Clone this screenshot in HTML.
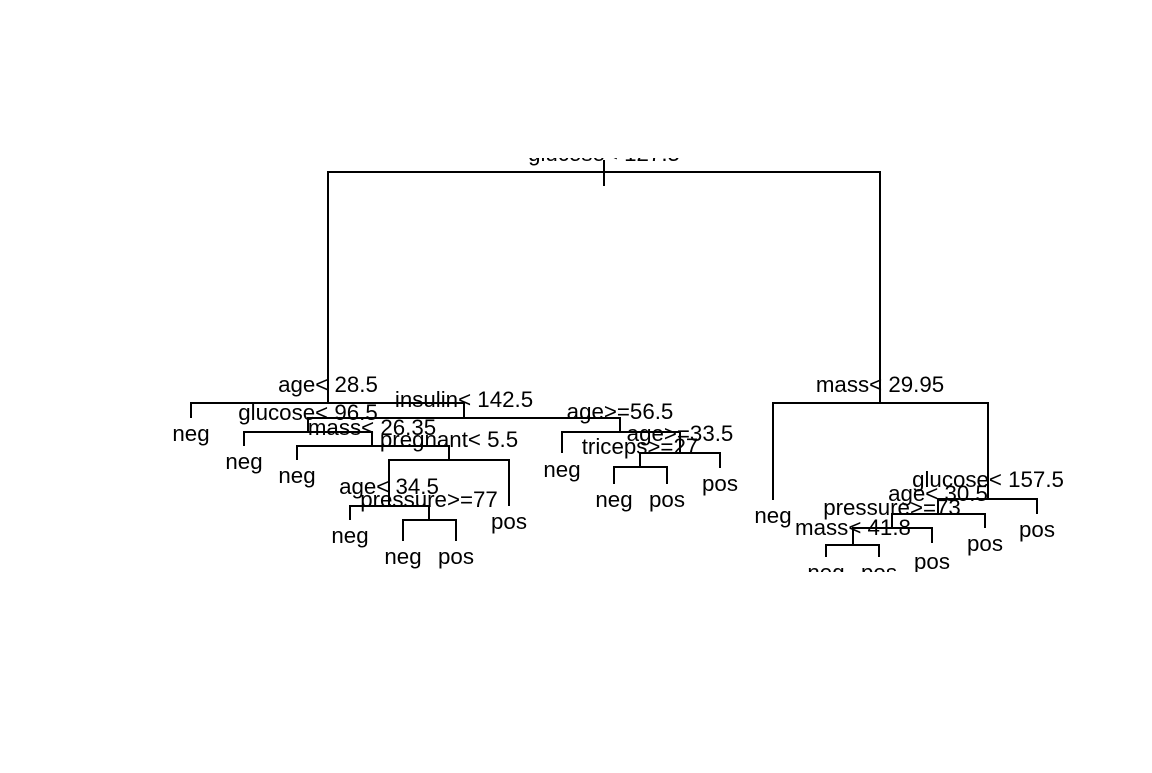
<!DOCTYPE html>
<html><head><style>body{margin:0;background:#fff}</style></head><body>
<svg width="1152" height="768" xmlns="http://www.w3.org/2000/svg" font-family="Liberation Sans, Arial, sans-serif" font-size="22.3" text-anchor="middle">
<defs><clipPath id="c"><rect x="0" y="158" width="1152" height="414"/></clipPath></defs>
<rect width="1152" height="768" fill="#fff"/>
<g clip-path="url(#c)">
<g stroke="#000" stroke-width="2" fill="none">
<path d="M604 160V186"/>
<path d="M328 403V172H880V403"/>
<path d="M191 418V403H464V418"/>
<path d="M308 432V418H620V432"/>
<path d="M244 446V432H372V446"/>
<path d="M297 460V446H449V460"/>
<path d="M389 506V460H509V506"/>
<path d="M350 520V506H429V520"/>
<path d="M403 541V520H456V541"/>
<path d="M562 453V432H680V453"/>
<path d="M640 467V453H720V468"/>
<path d="M614 484V467H667V484"/>
<path d="M773 500V403H988V499"/>
<path d="M938 514V499H1037V514"/>
<path d="M892 528V514H985V528"/>
<path d="M853 545V528H932V543"/>
<path d="M826 557V545H879V557"/>
</g>
<g fill="#000">
<text x="604" y="161">glucose&lt; 127.5</text>
<text x="328" y="392">age&lt; 28.5</text>
<text x="464" y="407">insulin&lt; 142.5</text>
<text x="308" y="420">glucose&lt; 96.5</text>
<text x="372" y="435">mass&lt; 26.35</text>
<text x="449" y="447">pregnant&lt; 5.5</text>
<text x="389" y="494">age&lt; 34.5</text>
<text x="429" y="507">pressure&gt;=77</text>
<text x="620" y="419">age&gt;=56.5</text>
<text x="680" y="441">age&gt;=33.5</text>
<text x="640" y="454">triceps&gt;=27</text>
<text x="880" y="392">mass&lt; 29.95</text>
<text x="988" y="487">glucose&lt; 157.5</text>
<text x="938" y="501">age&lt; 30.5</text>
<text x="892" y="515">pressure&gt;=73</text>
<text x="853" y="535">mass&lt; 41.8</text>
<text x="191" y="441">neg</text>
<text x="244" y="469">neg</text>
<text x="297" y="483">neg</text>
<text x="350" y="543">neg</text>
<text x="403" y="564">neg</text>
<text x="456" y="564">pos</text>
<text x="509" y="529">pos</text>
<text x="562" y="477">neg</text>
<text x="614" y="507">neg</text>
<text x="667" y="507">pos</text>
<text x="720" y="491">pos</text>
<text x="773" y="523">neg</text>
<text x="1037" y="537">pos</text>
<text x="985" y="551">pos</text>
<text x="932" y="569">pos</text>
<text x="826" y="580">neg</text>
<text x="879" y="580">pos</text>
</g>
</g>
</svg>
</body></html>
